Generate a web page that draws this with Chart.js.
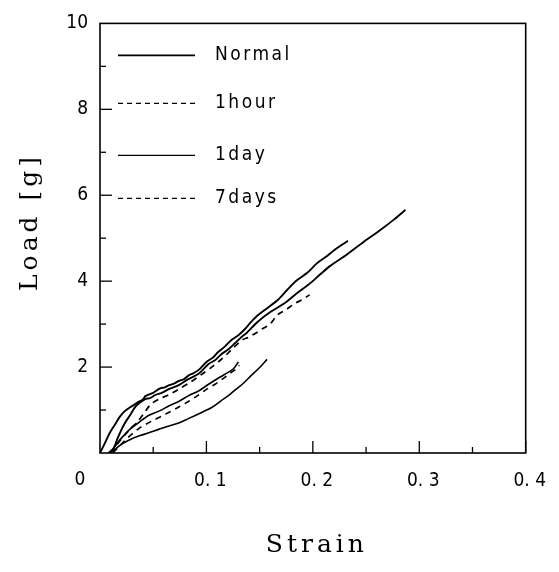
<!DOCTYPE html>
<html>
<head>
<meta charset="utf-8">
<script src="https://cdn.jsdelivr.net/npm/chart.js@4"></script>
<style>
  body { margin: 0; background: #fff; }
  #wrap { width: 559px; height: 572px; }
</style>
</head>
<body>
<div id="wrap"><canvas id="graficoCarga"></canvas></div>
<script>
// tick labels
const xTickValues = [0, 0.1, 0.2, 0.3, 0.4];
const yTickValues = [2, 4, 6, 8, 10];

// legend entries (Normal, 1hour, 1day, 7days)
const legendLabels = ['Normal', '1hour', '1day', '7days'];
const xTitle = 'Strain';
const yTitle = 'Load [g]';

// Normal - two specimens (solid)
const normalAStrain = [0, 0.005, 0.009, 0.014, 0.0185, 0.023, 0.028, 0.032, 0.036, 0.040, 0.043, 0.050, 0.056, 0.061, 0.065, 0.070, 0.074, 0.079, 0.083, 0.088, 0.093, 0.100, 0.106, 0.111, 0.117, 0.123, 0.130, 0.136, 0.142, 0.148, 0.157, 0.167, 0.176, 0.185, 0.195, 0.204, 0.212, 0.220, 0.227, 0.233];
const normalALoad = [0, 0.25, 0.46, 0.66, 0.84, 0.97, 1.06, 1.12, 1.19, 1.24, 1.33, 1.40, 1.50, 1.53, 1.58, 1.62, 1.68, 1.72, 1.80, 1.86, 1.94, 2.12, 2.22, 2.35, 2.47, 2.62, 2.74, 2.88, 3.05, 3.20, 3.37, 3.56, 3.80, 4.02, 4.20, 4.42, 4.56, 4.72, 4.84, 4.94];

const normalBStrain = [0.008, 0.012, 0.017, 0.023, 0.029, 0.034, 0.042, 0.047, 0.052, 0.058, 0.065, 0.074, 0.083, 0.093, 0.102, 0.108, 0.114, 0.121, 0.127, 0.133, 0.138, 0.148, 0.160, 0.173, 0.185, 0.198, 0.207, 0.216, 0.232, 0.247, 0.265, 0.277, 0.287];
const normalBLoad = [0, 0.07, 0.37, 0.68, 0.91, 1.10, 1.25, 1.28, 1.35, 1.40, 1.49, 1.58, 1.72, 1.85, 2.07, 2.16, 2.30, 2.42, 2.56, 2.70, 2.80, 3.05, 3.28, 3.48, 3.72, 3.96, 4.16, 4.35, 4.62, 4.90, 5.22, 5.45, 5.66];

// 1hour (dashed)
const hourStrain = [0.010, 0.016, 0.022, 0.028, 0.035, 0.042, 0.048, 0.056, 0.065, 0.075, 0.085, 0.095, 0.105, 0.115, 0.125, 0.133, 0.140, 0.147, 0.153, 0.159, 0.167, 0.175, 0.183, 0.190, 0.197];
const hourLoad = [0, 0.20, 0.38, 0.55, 0.72, 0.95, 1.14, 1.26, 1.36, 1.50, 1.65, 1.82, 2.00, 2.20, 2.44, 2.62, 2.70, 2.80, 2.90, 2.98, 3.22, 3.34, 3.48, 3.57, 3.68];

// 1day - two specimens (solid)
const dayAStrain = [0.008, 0.013, 0.0185, 0.028, 0.037, 0.046, 0.056, 0.065, 0.074, 0.083, 0.093, 0.102, 0.111, 0.120, 0.126, 0.130];
const dayALoad = [0, 0.12, 0.30, 0.55, 0.72, 0.88, 0.98, 1.10, 1.20, 1.33, 1.45, 1.60, 1.74, 1.87, 1.98, 2.12];

const dayBStrain = [0.012, 0.020, 0.028, 0.037, 0.046, 0.055, 0.065, 0.074, 0.083, 0.096, 0.105, 0.114, 0.121, 0.127, 0.135, 0.142, 0.150, 0.157];
const dayBLoad = [0.04, 0.20, 0.31, 0.40, 0.47, 0.55, 0.63, 0.70, 0.80, 0.95, 1.06, 1.22, 1.34, 1.47, 1.63, 1.80, 1.99, 2.18];

// 7days (dashed)
const weekStrain = [0.012, 0.019, 0.025, 0.031, 0.037, 0.044, 0.050, 0.058, 0.065, 0.074, 0.083, 0.092, 0.100, 0.108, 0.115, 0.123, 0.128, 0.131];
const weekLoad = [0, 0.18, 0.33, 0.46, 0.58, 0.68, 0.76, 0.86, 0.95, 1.07, 1.20, 1.34, 1.48, 1.60, 1.72, 1.87, 1.96, 2.04];

const toPoints = (xs, ys) => xs.map((x, i) => ({x: x, y: ys[i]}));

function serie(label, xs, ys, dashed, width) {
    return {
        label: label,
        data: toPoints(xs, ys),
        borderColor: '#000',
        backgroundColor: '#000',
        borderWidth: width,
        borderDash: dashed ? [6, 5] : [],
        pointRadius: 0,
        tension: 0.3,
        fill: false
    };
}

// marco, marcas interiores, leyenda, titulos y el "0" de la esquina
const marcoPlugin = {
    id: 'marco',
    afterDraw(chart) {
        const {ctx, chartArea: a, scales: {x, y}} = chart;
        ctx.save();
        ctx.strokeStyle = '#000';
        ctx.lineWidth = 1.6;
        ctx.strokeRect(a.left, a.top, a.right - a.left, a.bottom - a.top);

        ctx.lineWidth = 1.3;
        for (let v = 0.05; v < 0.4; v += 0.05) {
            const px = x.getPixelForValue(v);
            const major = Math.abs(v * 10 - Math.round(v * 10)) < 0.01;
            ctx.beginPath();
            ctx.moveTo(px, a.bottom);
            ctx.lineTo(px, a.bottom - (major ? 12 : 6));
            ctx.stroke();
        }
        for (let v = 1; v < 10; v++) {
            const py = y.getPixelForValue(v);
            ctx.beginPath();
            ctx.moveTo(a.left, py);
            ctx.lineTo(a.left + (v % 2 === 0 ? 12 : 6), py);
            ctx.stroke();
        }

        // leyenda dentro del area
        const estilos = [{dash: [], w: 1.6}, {dash: [5, 4], w: 1.3}, {dash: [], w: 1.3}, {dash: [5, 4], w: 1.3}];
        const filas = [50, 98, 150, 193];
        ctx.font = '19px "DejaVu Sans Condensed", "Liberation Sans Narrow", sans-serif';
        ctx.letterSpacing = '2.5px';
        ctx.textBaseline = 'middle';
        ctx.fillStyle = '#000';
        legendLabels.forEach((txt, i) => {
            const yy = a.top + filas[i] - 18;
            ctx.lineWidth = estilos[i].w;
            ctx.setLineDash(estilos[i].dash);
            ctx.beginPath();
            ctx.moveTo(a.left + 18, yy);
            ctx.lineTo(a.left + 95, yy);
            ctx.stroke();
            ctx.setLineDash([]);
            ctx.fillText(txt, a.left + 115, yy);
        });

        // titulos de ejes
        ctx.font = '25px "DejaVu Serif", serif';
        ctx.letterSpacing = '4px';
        ctx.textAlign = 'center';
        ctx.fillText(xTitle, (a.left + a.right) / 2 + 4, 545);
        ctx.save();
        ctx.translate(30, 222);
        ctx.rotate(-Math.PI / 2);
        ctx.fillText(yTitle, 0, 0);
        ctx.restore();

        ctx.font = '19px "DejaVu Sans Condensed", "Liberation Sans Narrow", sans-serif';
        ctx.letterSpacing = '0px';
        ctx.fillText('0', x.getPixelForValue(0) - 20, a.bottom + 27);
        ctx.restore();
    }
};

document.addEventListener('DOMContentLoaded', function(){
    const ctx = document.getElementById('graficoCarga').getContext('2d');
    const tickFont = {family: '"DejaVu Sans Condensed", "Liberation Sans Narrow", sans-serif', size: 19};
    new Chart(ctx, {
        type: 'line',
        data: {
            datasets: [
                serie('Normal', normalAStrain, normalALoad, false, 1.9),
                serie('Normal', normalBStrain, normalBLoad, false, 1.9),
                serie('1hour', hourStrain, hourLoad, true, 1.7),
                serie('1day', dayAStrain, dayALoad, false, 1.6),
                serie('1day', dayBStrain, dayBLoad, false, 1.6),
                serie('7days', weekStrain, weekLoad, true, 1.6)
            ]
        },
        options: {
            responsive: true,
            maintainAspectRatio: false,
            animation: false,
            layout: {padding: {left: 0, top: 18, right: 27, bottom: 0}},
            plugins: {legend: {display: false}, tooltip: {enabled: false}},
            scales: {
                x: {
                    type: 'linear',
                    min: 0,
                    max: 0.4,
                    afterBuildTicks: s => { s.ticks = xTickValues.map(v => ({value: v})); },
                    afterFit: s => { s.height = 119; },
                    grid: {display: false, drawTicks: false},
                    border: {display: false},
                    ticks: {
                        color: '#000',
                        font: tickFont,
                        padding: 17,
                        labelOffset: 4,
                        maxRotation: 0,
                        callback: v => v === 0 ? '' : v.toFixed(1).replace('.', '. ')
                    },
                    title: {display: false}
                },
                y: {
                    min: 0,
                    max: 10,
                    afterBuildTicks: s => { s.ticks = yTickValues.map(v => ({value: v})); },
                    afterFit: s => { s.width = 100; },
                    grid: {display: false, drawTicks: false},
                    border: {display: false},
                    ticks: {color: '#000', font: tickFont, padding: 12},
                    title: {display: false}
                }
            }
        },
        plugins: [marcoPlugin]
    });
});
</script>
</body>
</html>
